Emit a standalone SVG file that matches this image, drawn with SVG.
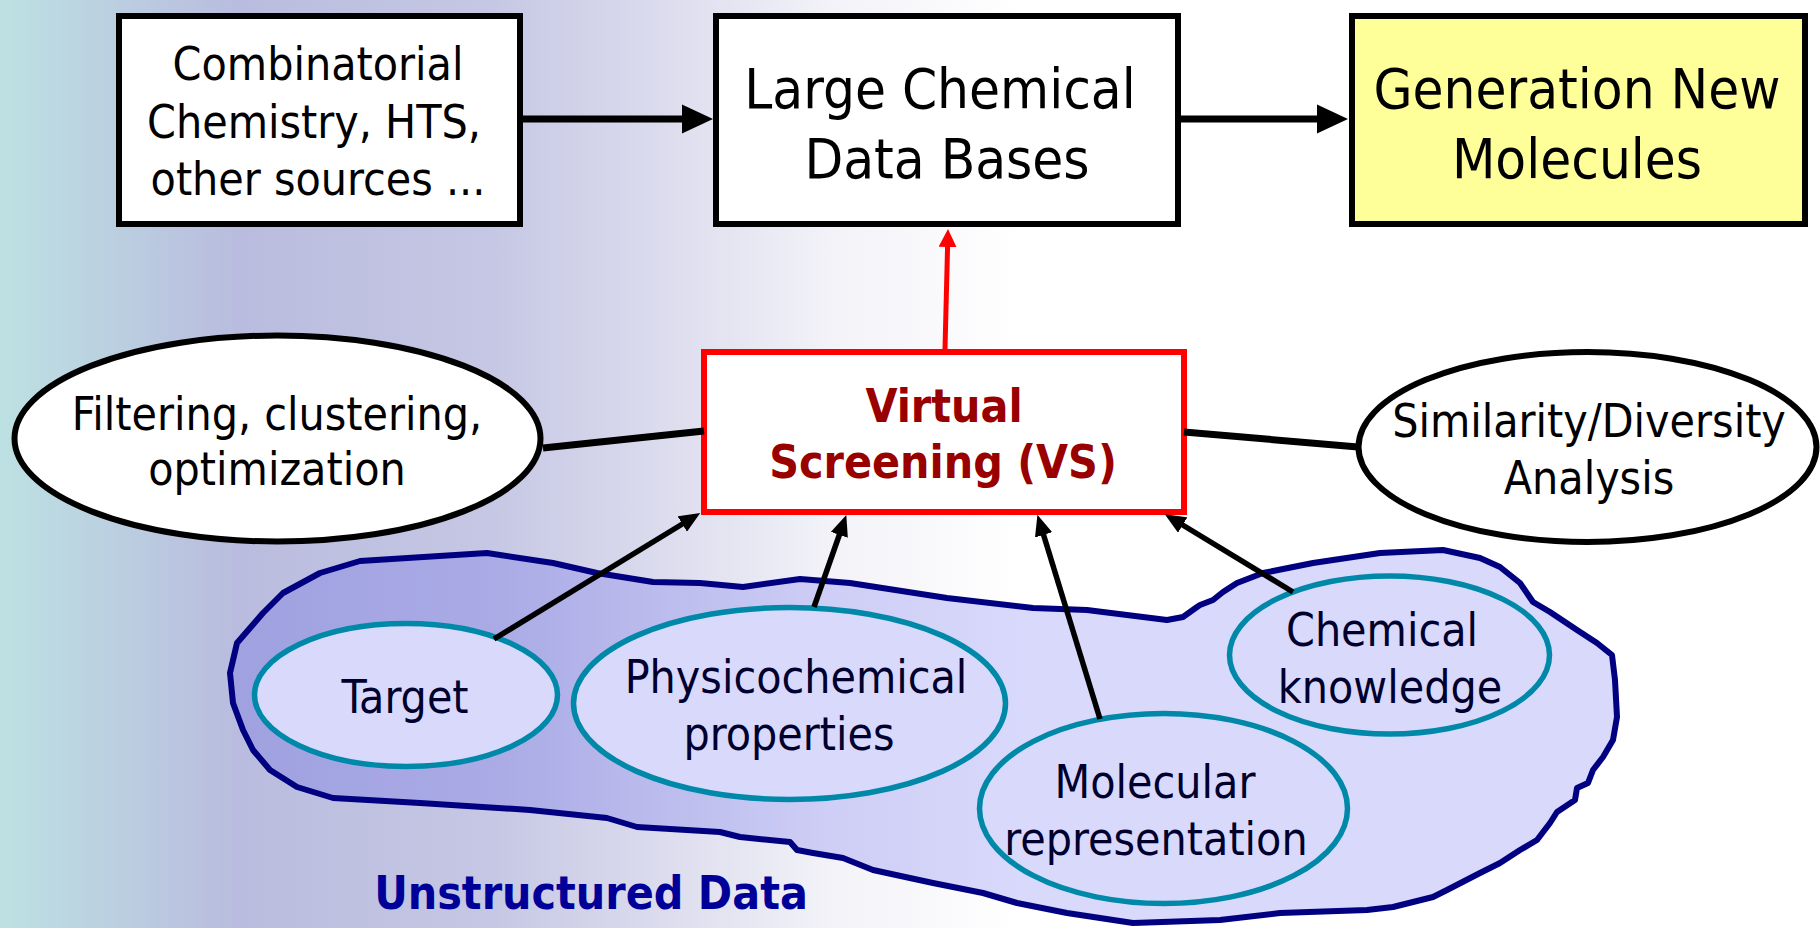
<svg xmlns="http://www.w3.org/2000/svg" width="1820" height="928" viewBox="0 0 1820 928">
  <defs>
    <linearGradient id="bg" x1="0" y1="0" x2="1820" y2="0" gradientUnits="userSpaceOnUse">
      <stop offset="0" stop-color="#BDE1E2"/>
      <stop offset="0.13" stop-color="#B9BCDE"/>
      <stop offset="0.27" stop-color="#C6C7E4"/>
      <stop offset="0.365" stop-color="#DCDCEE"/>
      <stop offset="0.455" stop-color="#F2F2F8"/>
      <stop offset="0.56" stop-color="#FFFFFF"/>
      <stop offset="1" stop-color="#FFFFFF"/>
    </linearGradient>
    <marker id="bigHead" markerUnits="userSpaceOnUse" markerWidth="32" markerHeight="32" viewBox="0 0 32 32" refX="2" refY="16" orient="auto">
      <path d="M0,1.5 L31,16 L0,30.5 Z" fill="#000"/>
    </marker>
    <marker id="smallHead" markerUnits="userSpaceOnUse" markerWidth="21" markerHeight="18" viewBox="0 0 21 18" refX="2" refY="9" orient="auto">
      <path d="M0,0 L21,9 L0,18 Z" fill="#000"/>
    </marker>
    <marker id="redHead" markerUnits="userSpaceOnUse" markerWidth="18" markerHeight="18" viewBox="0 0 18 18" refX="2" refY="9" orient="auto">
      <path d="M0,0 L18,9 L0,18 Z" fill="#FF0000"/>
    </marker>
  </defs>
  <style>
    text { font-family: "DejaVu Sans Condensed", "DejaVu Sans", sans-serif; font-stretch: condensed; text-anchor: middle; }
    .t46 { font-size: 46px; fill: #000; }
    .t56 { font-size: 56px; fill: #000; }
    .inner { font-size: 46px; fill: #00002E; }
    .vs { font-size: 46px; font-weight: bold; fill: #990000; }
    .box { fill: #FFFFFF; stroke: #000; stroke-width: 6; }
    .oval { fill: #FFFFFF; stroke: #000; stroke-width: 6; }
    .sub { fill: #D9D9FC; stroke: #0088A8; stroke-width: 5.5; }
    .link { stroke: #000; stroke-width: 7; fill: none; }
    .feed { stroke: #000; stroke-width: 5.5; fill: none; }
  </style>

  <!-- background wash -->
  <rect x="0" y="0" width="1820" height="928" fill="url(#bg)"/>

  <!-- unstructured data region -->
  <g id="unstructured-data">
    <path fill="#2626EE" fill-opacity="0.175" stroke="#000080" stroke-width="6" stroke-linejoin="round"
      d="M283,593 L320,573 L360,561 L487,553 L553,563 L597,573 L653,582 L700,583 L743,587 L800,579 L850,583 L947,598 L1033,608 L1087,610 L1167,620 L1183,617 L1197,607 L1200,605 L1213,600 L1223,592 L1237,583 L1263,573 L1313,563 L1380,553 L1443,550 L1480,558 L1500,567 L1520,583 L1533,602 L1550,612 L1577,630 L1597,643 L1612,655 L1615,680 L1617,717 L1613,740 L1603,757 L1593,770 L1588,783 L1577,788 L1575,800 L1557,812 L1550,823 L1537,840 L1520,850 L1500,863 L1480,873 L1447,890 L1433,897 L1393,907 L1367,910 L1280,913 L1220,920 L1133,923 L1067,913 L1017,903 L983,893 L933,883 L873,870 L843,858 L813,853 L797,850 L790,842 L740,837 L720,832 L637,827 L607,818 L530,810 L420,803 L333,798 L297,787 L270,770 L253,750 L243,730 L233,703 L230,673 L237,643 L263,613 Z"/>
    <text x="591" y="909" style="font-size:46px;font-weight:bold;fill:#000099">Unstructured Data</text>
  </g>

  <g id="sources">
    <rect class="box" x="119" y="16" width="401" height="208"/>
    <text class="t46" x="318" y="80">Combinatorial</text>
    <text class="t46" x="314" y="138">Chemistry, HTS,</text>
    <text class="t46" x="318" y="195">other sources ...</text>
  </g>

  <g id="databases">
    <rect class="box" x="716" y="16" width="462" height="208"/>
    <text class="t56" x="940" y="108">Large Chemical</text>
    <text class="t56" x="947" y="178">Data Bases</text>
  </g>

  <g id="new-molecules">
    <rect class="box" x="1352" y="16" width="453" height="208" style="fill:#FFFF99"/>
    <text class="t56" x="1577" y="108">Generation New</text>
    <text class="t56" x="1577" y="178">Molecules</text>
  </g>

  <g id="virtual-screening">
    <rect x="704" y="352" width="480" height="160" fill="#FFFFFF" stroke="#FF0000" stroke-width="6"/>
    <text class="vs" x="944" y="422">Virtual</text>
    <text class="vs" x="943" y="478">Screening (VS)</text>
  </g>

  <g id="filtering">
    <ellipse class="oval" cx="277.5" cy="438.5" rx="263" ry="103"/>
    <text class="t46" x="277" y="430">Filtering, clustering,</text>
    <text class="t46" x="277" y="485">optimization</text>
  </g>

  <g id="similarity">
    <ellipse class="oval" cx="1587.5" cy="447" rx="229" ry="95"/>
    <text class="t46" x="1589" y="437">Similarity/Diversity</text>
    <text class="t46" x="1589" y="494">Analysis</text>
  </g>

  <g id="target">
    <ellipse class="sub" cx="406" cy="695" rx="151.5" ry="71.5"/>
    <text class="inner" x="405" y="713">Target</text>
  </g>

  <g id="physicochemical">
    <ellipse class="sub" cx="789.5" cy="703.5" rx="216" ry="96"/>
    <text class="inner" x="796" y="693">Physicochemical</text>
    <text class="inner" x="789" y="750">properties</text>
  </g>

  <g id="molecular-representation">
    <ellipse class="sub" cx="1163.5" cy="808.5" rx="184" ry="95"/>
    <text class="inner" x="1155" y="798">Molecular</text>
    <text class="inner" x="1156" y="855">representation</text>
  </g>

  <g id="chemical-knowledge">
    <ellipse class="sub" cx="1389.5" cy="655" rx="160" ry="79"/>
    <text class="inner" x="1382" y="646">Chemical</text>
    <text class="inner" x="1390" y="703">knowledge</text>
  </g>

  <g id="connectors">
    <line class="link" x1="520" y1="119" x2="684" y2="119" marker-end="url(#bigHead)"/>
    <line class="link" x1="1178" y1="119" x2="1319" y2="119" marker-end="url(#bigHead)"/>
    <line x1="945" y1="349" x2="947.6" y2="245" stroke="#FF0000" stroke-width="5" marker-end="url(#redHead)"/>
    <line class="link" x1="543" y1="448" x2="704" y2="431"/>
    <line class="link" x1="1184" y1="432" x2="1358" y2="447"/>
    <line class="feed" x1="494" y1="639" x2="684" y2="523" marker-end="url(#smallHead)"/>
    <line class="feed" x1="814" y1="607" x2="840" y2="533" marker-end="url(#smallHead)"/>
    <line class="feed" x1="1100" y1="719" x2="1043" y2="533" marker-end="url(#smallHead)"/>
    <line class="feed" x1="1293" y1="592" x2="1181" y2="524" marker-end="url(#smallHead)"/>
  </g>
</svg>
